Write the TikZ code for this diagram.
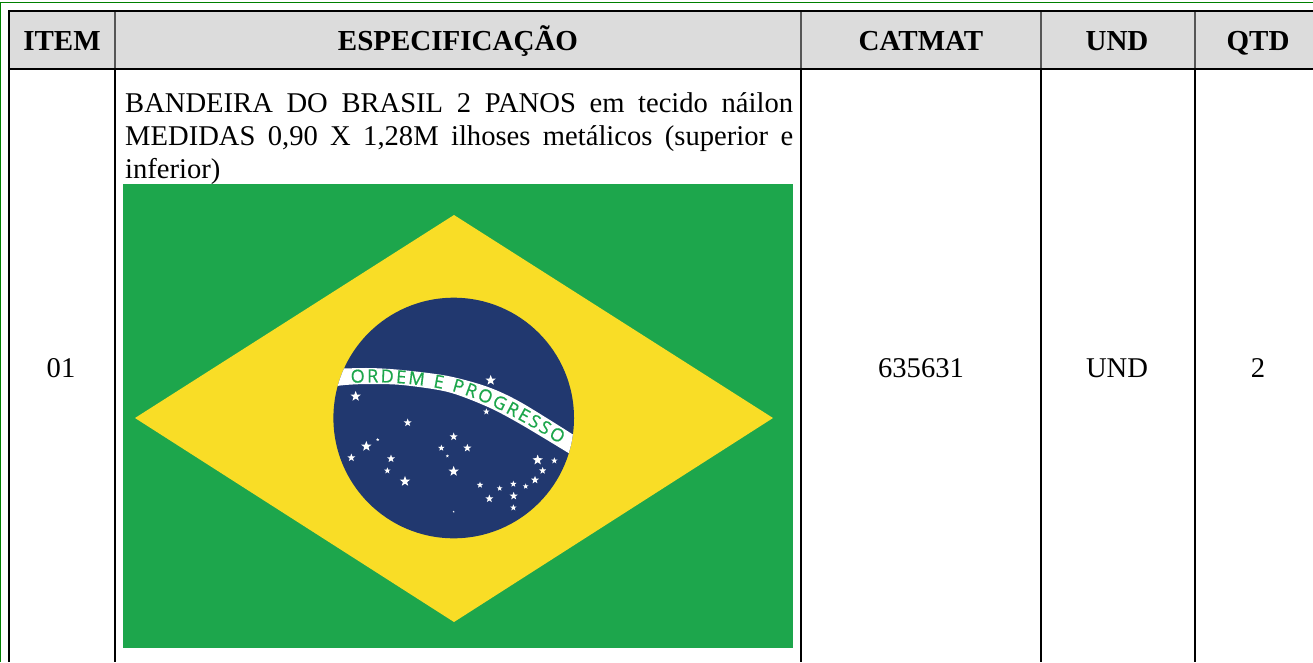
\documentclass[tikz,border=0pt]{standalone}
\usepackage{fontspec}
\setmainfont{Liberation Serif}
\newfontfamily\mottofont[FakeBold=0.6]{Open Sans}
\usetikzlibrary{shapes.geometric,decorations.text}
\definecolor{flaggreen}{HTML}{1DA64C}
\definecolor{flagyellow}{HTML}{F9DD26}
\definecolor{flagblue}{HTML}{21386F}
\definecolor{framegreen}{HTML}{008000}
\definecolor{headgray}{HTML}{DCDCDC}
\definecolor{headrule}{HTML}{555555}
\tikzset{
  rule/.style={line width=2.6pt,black},
  headsep/.style={line width=2pt,headrule},
  frameline/.style={line width=1.3pt,framegreen},
  headtext/.style={font=\fontsize{29}{33}\selectfont\bfseries,inner sep=0pt,anchor=base},
  celltext/.style={font=\fontsize{28.6}{33}\selectfont,inner sep=0pt,anchor=base},
  flagstar/.style={star,star points=5,star point ratio=2.4,fill=white,inner sep=0pt,draw=none}
}
\begin{document}
\begin{tikzpicture}[x=1pt,y=-1pt]
\useasboundingbox (0,0) rectangle (1313,662);
% frame
\draw[frameline] (0.5,662) -- (0.5,2.5) -- (1313,2.5);
% header
\fill[headgray] (9,11) rectangle (1313,69);
\foreach \x in {115,801,1041,1195} \draw[headsep] (\x,11) -- (\x,69);
\draw[rule] (9,11) -- (1313,11);
\draw[rule] (9,69) -- (1313,69);
\draw[rule] (9,10) -- (9,662);
\foreach \x in {115,801,1041,1195} \draw[rule] (\x,69) -- (\x,662);
% header texts
\node[headtext] (hitem) at (62,50) {ITEM};
\node[headtext] (hspec) at (458,50) {ESPECIFICAÇÃO};
\node[headtext] (hcat) at (921,50) {CATMAT};
\node[headtext] (hund) at (1117,50) {UND};
\node[headtext] (hqtd) at (1258,50) {QTD};
% row
\node[celltext] (citem) at (61,377) {01};
\node[celltext] (ccat) at (921,377) {635631};
\node[celltext] (cund) at (1117,377) {UND};
\node[celltext] (cqtd) at (1258,377) {2};
\node[font=\fontsize{28.6}{33}\selectfont,inner sep=0pt,anchor=north west,text width=668pt,align=justify] (cspec) at (125,92)
  {BANDEIRA DO BRASIL 2 PANOS em tecido náilon\linebreak MEDIDAS 0,90 X 1,28M ilhoses metálicos (superior e\linebreak inferior)};
% flag
\fill[flaggreen] (123,184) rectangle (793,648);
\fill[flagyellow] (454,215) -- (773,418) -- (454,622) -- (135,418) -- cycle;
\fill[flagblue] (453.7,418) circle[radius=120.3];
\begin{scope}
\clip (453.7,418) circle[radius=120.3];
\fill[white] plot[smooth] coordinates {(330,369) (368,368) (402,370) (448,376) (488,387) (522,403) (580,439)}
  -- plot[smooth] coordinates {(580,460) (522,425) (488,407) (448,392) (402,385) (368,384) (345,385) (330,387)} -- cycle;
\end{scope}
\path[decorate,decoration={text along path,text align={fit to path},
  text={|\fontsize{18}{18}\selectfont\mottofont\color{flaggreen}|ORDEM E PROGRESSO}}]
  (351,383) .. controls (380,381) and (415,383) .. (448,390) .. controls (480,397) and (520,419) .. (560,444);
\newcounter{starno}
\foreach \zx/\zy/\r in {512/271/13,107/319/13,499/365/8,263/398/10,401/440/10,173/449/4,139/469/13,364/474/8,442/474/10,382/498/4,94/503/10,213/506/10,653/510/13,703/512/8,202/542/8,668/542/9,401/544/13,645/570/10,255/574/13,480/585/8,580/582/8,617/589/7,539/595/7,581/618/10,508/626/10,580/653/8,401/665/2.5}{
  \stepcounter{starno}
  \pgfmathsetmacro\px{320+\zx/3}
  \pgfmathsetmacro\py{290+\zy/3}
  \pgfmathsetmacro\sz{2.5*\r/3}
  \node[flagstar,minimum size=\sz pt] (star\arabic{starno}) at (\px,\py) {};
}
\end{tikzpicture}
\end{document}
